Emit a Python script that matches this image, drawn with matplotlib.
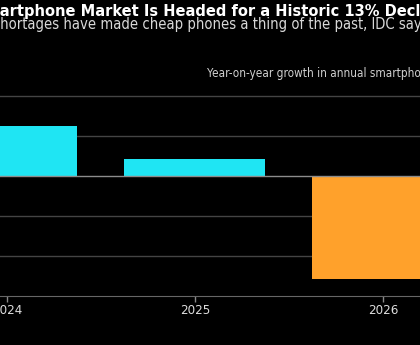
import matplotlib
matplotlib.use('Agg')
import matplotlib.pyplot as plt

# values (year-on-year growth, %)
years = [2024, 2025, 2026]
growth = [6.2, 2.1, -12.9]
tick_labels = ['2024', '2025', '2026']
title = 'Smartphone Market Is Headed for a Historic 13% Decline'
subtitle = 'Memory shortages have made cheap phones a thing of the past, IDC says'
unit_label = 'Year-on-year growth in annual smartphone shipments'

plt.rcParams['font.family'] = 'DejaVu Sans'
plt.rcParams['font.stretch'] = 'condensed'

fig = plt.figure(figsize=(4.2, 3.45), dpi=100, facecolor='black')
ax = fig.add_axes([0, 0.142, 1, 0.5843])
ax.set_facecolor('black')

colors = ['#1fe5f3' if v >= 0 else '#ffa12b' for v in growth]
ax.bar(years, growth, width=0.75, color=colors, zorder=2)
ax.axhline(0, color='#8c8c8c', lw=1, zorder=3)

ax.set_xlim(2023.963, 2026.197)
ax.set_ylim(-15, 10.2)
ax.set_yticks([-10, -5, 5, 10])
ax.yaxis.grid(True, color='#444444', lw=1, zorder=0)
ax.tick_params(axis='y', length=0, labelleft=False)
for s in ['left', 'right', 'top']:
    ax.spines[s].set_visible(False)
ax.spines['bottom'].set_color('#666666')
ax.set_xticks(years, tick_labels)
ax.tick_params(axis='x', colors='#888888', labelcolor='#dddddd', length=4,
               width=1, labelsize=9.5, pad=2)

# the chart is a crop, so the headline starts left of the figure edge
r = fig.canvas.get_renderer()
def cut_text(text, hidden, y, **kw):
    t = fig.text(0, y, text, va='baseline', **kw)
    w = r.get_text_width_height_descent(hidden, t.get_fontproperties(), ismath=False)[0]
    t.set_x(-w / fig.bbox.width)
    return t

cut_text(title, 'Sm', 0.954, color='white', fontsize=11.7, fontweight='bold')
cut_text(subtitle, 'Memory s', 0.916, color='#d8d8d8', fontsize=10.6)
fig.text(0.494, 0.778, unit_label, color='#d0d0d0', fontsize=8.5, va='baseline')

fig.savefig('out.png', dpi=100, facecolor='black')
